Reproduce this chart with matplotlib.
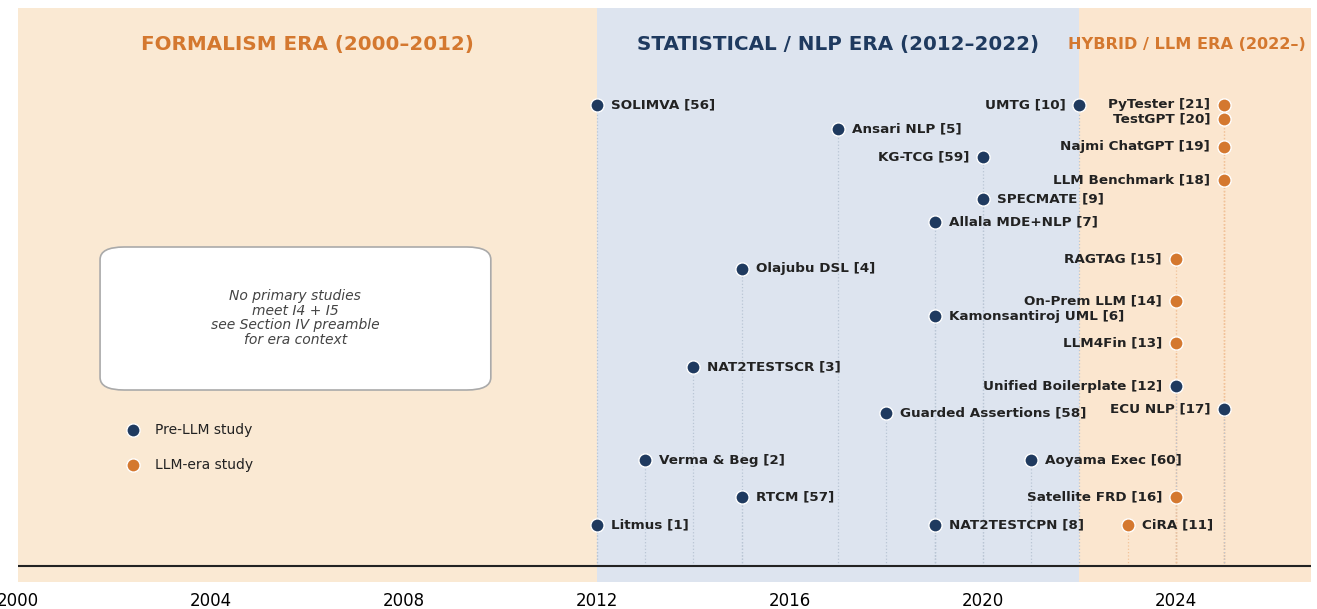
import matplotlib
matplotlib.use("Agg")
import matplotlib.pyplot as plt
from matplotlib.patches import FancyBboxPatch

NAVY = '#1f3a5f'
ORANGE = '#d4782f'

# studies: name, year, height above baseline, llm-era?, label side
names = ['SOLIMVA [56]', 'Ansari NLP [5]', 'KG-TCG [59]', 'SPECMATE [9]', 'Allala MDE+NLP [7]',
         'Olajubu DSL [4]', 'Kamonsantiroj UML [6]', 'NAT2TESTSCR [3]', 'Guarded Assertions [58]',
         'Verma & Beg [2]', 'RTCM [57]', 'Litmus [1]', 'NAT2TESTCPN [8]', 'Aoyama Exec [60]',
         'UMTG [10]', 'PyTester [21]', 'TestGPT [20]', 'Najmi ChatGPT [19]', 'LLM Benchmark [18]',
         'RAGTAG [15]', 'On-Prem LLM [14]', 'LLM4Fin [13]', 'Unified Boilerplate [12]',
         'ECU NLP [17]', 'Satellite FRD [16]', 'CiRA [11]']
years = [2012, 2017, 2020, 2020, 2019,
         2015, 2019, 2014, 2018,
         2013, 2015, 2012, 2019, 2021,
         2022, 2025, 2025, 2025, 2025,
         2024, 2024, 2024, 2024,
         2025, 2024, 2023]
heights = [46.1, 43.7, 40.9, 36.7, 34.4,
           29.7, 25.0, 19.9, 15.3,
           10.6, 6.9, 4.1, 4.1, 10.6,
           46.1, 46.1, 44.7, 41.9, 38.6,
           30.7, 26.5, 22.3, 18.0,
           15.7, 6.9, 4.1]
is_llm = [0, 0, 0, 0, 0,
          0, 0, 0, 0,
          0, 0, 0, 0, 0,
          0, 1, 1, 1, 1,
          1, 1, 1, 0,
          0, 1, 1]
side = ['r', 'r', 'l', 'r', 'r',
        'r', 'r', 'r', 'r',
        'r', 'r', 'r', 'r', 'r',
        'l', 'l', 'l', 'l', 'l',
        'l', 'l', 'l', 'l',
        'l', 'l', 'r']

eras = [(2000, 2012, 2006, '#fae9d3', 'FORMALISM ERA (2000–2012)', ORANGE, 14.3),
        (2012, 2022, 2017, '#dde4ef', 'STATISTICAL / NLP ERA (2012–2022)', NAVY, 14.3),
        (2022, 2026.8, 2024.23, '#fbe6cf', 'HYBRID / LLM ERA (2022–)', ORANGE, 11.6)]

fig = plt.figure(figsize=(13.17, 6.09), dpi=100)
ax = fig.add_axes([0.0137, 0.0443, 0.9817, 0.9426])
ax.set_xlim(2000, 2026.8)
ax.set_ylim(-1.6, 55.8)

for x0, x1, xc, bg, title, tc, fs in eras:
    ax.axvspan(x0, x1, color=bg, zorder=0, lw=0)
    ax.text(xc, 52.1, title, color=tc, fontsize=fs, fontweight='bold',
            ha='center', va='center')

ax.axhline(0, color='#222222', lw=1.5, zorder=2)

for n, yr, h, llm, s in zip(names, years, heights, is_llm, side):
    c = ORANGE if llm else NAVY
    stem_c = '#f2c39a' if llm else '#b9c5d4'
    ax.plot([yr, yr], [0, h], ls=':', color=stem_c, lw=0.9, zorder=1)
    ax.scatter(yr, h, s=90, color=c, edgecolor='white', linewidth=1, zorder=4)
    if s == 'r':
        ax.annotate(n, (yr, h), xytext=(10, 0), textcoords='offset points',
                    ha='left', va='center', fontsize=9.7, fontweight='bold', color='#222222')
    else:
        ax.annotate(n, (yr, h), xytext=(-10, 0), textcoords='offset points',
                    ha='right', va='center', fontsize=9.7, fontweight='bold', color='#222222')

box = FancyBboxPatch((2001.7, 17.6), 8.1, 14.3, boxstyle='round,pad=0,rounding_size=0.5',
                     facecolor='white', edgecolor='#aaaaaa', lw=1.2, zorder=3,
                     mutation_aspect=2.5)
ax.add_patch(box)
ax.text(2005.75, 24.8, 'No primary studies\nmeet I4 + I5\nsee Section IV preamble\nfor era context',
        ha='center', va='center', style='italic', fontsize=10, color='#444444',
        linespacing=1.08, zorder=4)

# legend
ax.scatter(2002.39, 13.6, s=90, color=NAVY, edgecolor='white', linewidth=1, zorder=4)
ax.scatter(2002.39, 10.1, s=90, color=ORANGE, edgecolor='white', linewidth=1, zorder=4)
ax.text(2002.83, 13.6, 'Pre-LLM study', va='center', fontsize=10, color='#222222')
ax.text(2002.83, 10.1, 'LLM-era study', va='center', fontsize=10, color='#222222')

ax.set_xticks([2000, 2004, 2008, 2012, 2016, 2020, 2024])
ax.tick_params(axis='x', length=0, labelsize=12, pad=7)
ax.set_yticks([])
for sp in ax.spines.values():
    sp.set_visible(False)

fig.savefig('out.png', dpi=100)
